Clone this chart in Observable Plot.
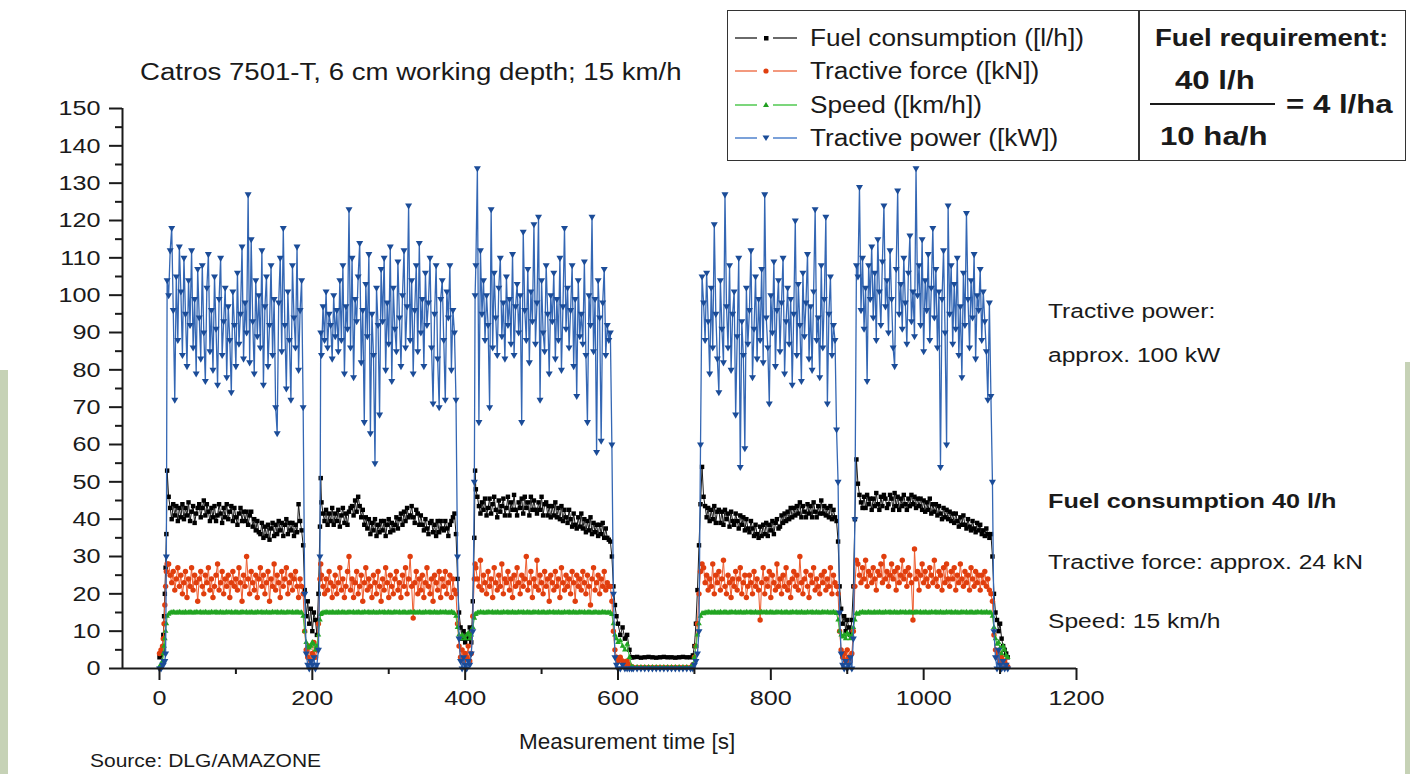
<!DOCTYPE html>
<html>
<head>
<meta charset="utf-8">
<script src="https://cdn.jsdelivr.net/npm/d3@7"></script>
<script src="https://cdn.jsdelivr.net/npm/@observablehq/plot@0.6"></script>
<style>
html,body{margin:0;padding:0;background:#fff;}
#wrap{position:relative;width:1410px;height:774px;overflow:hidden;font-family:"Liberation Sans",Arial,sans-serif;color:#1a1a1a;}
#chart{position:absolute;left:0;top:0;}
.t{position:absolute;white-space:nowrap;line-height:1;transform-origin:0 50%;transform:translateY(-50%) scaleX(1.2);}
.b{font-weight:bold;}
.abs{position:absolute;}
</style>
</head>
<body>
<div id="wrap">
  <div class="abs" style="left:0;top:370px;width:8px;height:404px;background:#c6d2b6"></div>
  <div class="abs" style="left:1405px;top:362px;width:5px;height:412px;background:#c6d2b6"></div>
  <div id="chart"></div>
  <div class="t" style="left:140px;top:72px;font-size:23px">Catros 7501-T, 6 cm working depth; 15 km/h</div>
  <div class="abs" style="left:727px;top:10px;width:679px;height:151px;border:1.5px solid #333;box-sizing:border-box;background:#fff"></div>
  <div class="abs" style="left:1138px;top:10px;width:1.5px;height:151px;background:#333"></div>
  <div id="legend"></div>
  <div class="t b" style="left:1155px;top:38px;font-size:23px">Fuel requirement:</div>
  <div class="t b" style="left:1175px;top:80px;font-size:26px">40 l/h</div>
  <div class="abs" style="left:1150px;top:103px;width:125px;height:2px;background:#1a1a1a"></div>
  <div class="t b" style="left:1286px;top:104px;font-size:26px">= 4 l/ha</div>
  <div class="t b" style="left:1160px;top:136px;font-size:26px">10 ha/h</div>
  <div class="t" style="left:1048px;top:311px;font-size:20.5px">Tractive power:</div>
  <div class="t" style="left:1048px;top:355px;font-size:20.5px">approx. 100 kW</div>
  <div class="t b" style="left:1048px;top:500px;font-size:21px">Fuel consumption 40 l/h</div>
  <div class="t" style="left:1048px;top:562px;font-size:20.5px">Tractive force: approx. 24 kN</div>
  <div class="t" style="left:1048px;top:621px;font-size:20.5px">Speed: 15 km/h</div>
  <div class="t" style="left:519px;top:742px;font-size:22.5px;transform:translateY(-50%)">Measurement time [s]</div>
  <div class="t" style="left:90px;top:762px;font-size:17.5px">Source: DLG/AMAZONE</div>
</div>
<script>
// ---------- data (one sample every ~2 s while working) ----------
const time = [
  0,2,4,5,6,7,8,9,10,
  12,14,16,18,20,22,24,26,28,30, 32,34,36,38,40,42,44,46,48,50, 52,54,56,58,60,62,64,66,68,70, 72,74,76,78,80,82,84,86,88,90, 92,94,96,98,100,102,104,106,108,110, 112,114,116,118,120,122,124,126,128,130, 132,134,136,138,140,142,144,146,148,150, 152,154,156,158,160,162,164,166,168,170, 172,174,176,178,180,182,184,186,
  188,190,192,194,196,198,200,202,204,206,208,210,211,
  212,214,216,218,220,222,224,226,228,230, 232,234,236,238,240,242,244,246,248,250, 252,254,256,258,260,262,264,266,268,270, 272,274,276,278,280,282,284,286,288,290, 292,294,296,298,300,302,304,306,308,310, 312,314,316,318,320,322,324,326,328,330, 332,334,336,338,340,342,344,346,348,350, 352,354,356,358,360,362,364,366,368,370, 372,374,376,378,380,382,384,386,
  388,390,392,394,396,398,400,402,404,406,408,410,412,413,
  414,416,418,420,422,424,426,428,430,432, 434,436,438,440,442,444,446,448,450,452, 454,456,458,460,462,464,466,468,470,472, 474,476,478,480,482,484,486,488,490,492, 494,496,498,500,502,504,506,508,510,512, 514,516,518,520,522,524,526,528,530,532, 534,536,538,540,542,544,546,548,550,552, 554,556,558,560,562,564,566,568,570,572, 574,576,578,580,582,584,586,588,
  590,592,594,596,598,600,603,606,609,612,615,618, 620,625,630,635,640,645,650,655,660,665,670,675,680,685,690,695, 698,700,702,704,706,708,710,
  712,714,716,718,720,722,724,726,728,730, 732,734,736,738,740,742,744,746,748,750, 752,754,756,758,760,762,764,766,768,770, 772,774,776,778,780,782,784,786,788,790, 792,794,796,798,800,802,804,806,808,810, 812,814,816,818,820,822,824,826,828,830, 832,834,836,838,840,842,844,846,848,850, 852,854,856,858,860,862,864,866,868,870, 872,874,876,878,880,882,884,886,
  888,890,892,894,896,898,900,902,904,906,908,910,912,
  914,916,918,920,922,924,926,928,930,932, 934,936,938,940,942,944,946,948,950,952, 954,956,958,960,962,964,966,968,970,972, 974,976,978,980,982,984,986,988,990,992, 994,996,998,1000,1002,1004,1006,1008,1010,1012, 1014,1016,1018,1020,1022,1024,1026,1028,1030,1032, 1034,1036,1038,1040,1042,1044,1046,1048,1050,1052, 1054,1056,1058,1060,1062,1064,1066,1068,1070,1072, 1074,1076,1078,1080,1082,1084,1086,1088,
  1090,1092,1094,1096,1098,1100,1102,1104,1106,1108,1110
];
const fuel = [
  3,3.5,5,9,14,20,27,36,53,
  46,43,40,44,41,43.5,39.5,43,40.5,44, 40,43,41,44.5,39.5,42,43.5,39,41.5,43, 44,40.5,43,45,41,44,42,39.5,43,40.5, 43.5,39.5,41,44,41.5,39,43,40.5,44,40, 42,43.5,39.5,43,40.5,38.5,41.5,43,39.5,42, 39.5,42,38.5,41,42,38,40,37,39.5,36.5, 36,39,35,38,35.5,38.5,34.5,37.5,39,35.5, 38.5,36,39.5,37,39,35.5,38.5,40,36,39, 37,39,35.5,38.5,36.5,44,39.5,37,
  33,21,14,18,12,16,10,15,13,9,20,38,51,
  44.5,41.5,39.5,42.5,38.5,41.5,39.5,43,38.5,41.5, 39.5,42.5,38,41,43,39,41.5,38.5,42,43, 43.5,41,45,42,46,43.5,40.5,42.5,38.5,40.5, 37.5,40,36,39,37,40,35.5,38.5,36.5,39.5, 37,39.5,35.5,38.5,40,36.5,39,37,38.5,40.5, 37.5,40,41.5,38.5,42,39.5,43,40.5,41,43.5, 40.5,39,42.5,41.5,38.5,41,38.5,37,40,37.5, 36,39,39.5,36.5,38.5,35.5,39.5,36.5,39.5,37.5, 37,39.5,37.5,35.5,38.5,39.5,40.5,41.5,
  36,24,15,11,8,10,7,9,8,11,7,18,35,53,
  48,46,43.5,41.5,44.5,42.5,45.5,41,43,45.5, 41.5,44,46,42.5,40.5,45,42,43.5,45.5,41, 43,46,41,44.5,42.5,46.5,42.5,41,44.5,43, 45.5,41.5,46,43,44.5,41,46,42.5,45,42.5, 41.5,44.5,42.5,46,41,44,44.5,41,43.5,40.5, 43.5,41,44.5,40.5,43,40,43.5,39.5,42.5,40.5, 39,42.5,40,38,41.5,38.5,37.5,40.5,38,41.5, 37.5,40,36.5,39.5,37,40.5,36,39,36.5,38.5, 35.5,38.5,36,39,35,37.5,35,34.5,
  34,30,22,17,14,12,9,11,8,9,5,3, 3,3.1,2.9,3,3.1,3,2.9,3,3.1,3,3,2.9,3,3.1,3,3, 3.5,6,12,21,33,44,54,
  46,43.5,40.5,43,39.5,42.5,40,43.5,39,42, 42.5,39,42,38.5,42.5,40,41.5,38,42,39.5, 38.5,41.5,39.5,37.5,41,38.5,40.5,37,40,37.5, 36.5,39.5,37.5,35.5,38.5,36,35,38,35.5,38.5, 36,39,35.5,38.5,37,39.5,36,39,40,37.5, 38,41,39,41.5,39.5,42,40,43,40.5,43, 41,43.5,41.5,44.5,40.5,43.5,42,40.5,44,41.5, 43.5,40.5,44.5,42,40.5,43.5,41.5,45,41.5,43.5, 41,43,40.5,43.5,40,42.5,40.5,39.5,
  34,22,16,12,14,10,13,11,9,13,22,40,56,
  49.5,46.5,44.5,43,46,43,46.5,44,45.5,42.5, 45.5,43.5,47,44,42.5,46,43.5,46.5,45.5,43, 44,46.5,45.5,42.5,47,43.5,46,42.5,45.5,43.5, 46.5,44,42.5,45.5,43.5,46.5,44,46,43,45.5, 43.5,45.5,42.5,45,42,44.5,42.5,45.5,41.5,44, 42,44,41,43.5,41.5,40,43,40.5,42.5,40, 42,39.5,41.5,39,41.5,39.5,38,40.5,38.5,41, 38.5,37.5,40,38,37,39.5,37.5,36.5,39,37, 38.5,36,37,35.5,37.5,36,35,36,
  30,20,15,13,10,12,8,6,5,4,3
];
const force = [
  4,5,6,8,12,17,22,26,28,
  28,25,23,26,21,24,27,22,25,20, 23,26,19,24,22,27,21,25,23,18, 24,26,22,20,25,23,27,21,24,19, 22,25,28,21,23,26,20,24,22,25, 19,23,26,22,24,21,27,23,18,25, 22,30,24,20,26,23,21,25,19,24, 27,22,25,20,23,26,18,24,22,28, 21,25,23,19,26,22,24,27,20,23, 25,21,24,26,22,19,24,22,
  20,10,5,3,6,2,4,7,3,5,12,24,28,
  25,22,20,24,21,26,23,19,22,25, 20,23,27,21,24,19,22,26,30,21, 24,19,23,26,20,22,25,18,23,27, 21,24,22,19,25,23,20,26,22,18, 24,21,27,23,19,25,22,20,24,26, 21,23,19,25,22,27,20,24,30,22, 13.5,23,26,20,24,21,25,19,23,27, 22,20,24,18,25,23,21,26,19,24, 22,26,20,23,25,19,24,21,
  20,12,6,3,5,2,4,3,6,2,4,14,24,28,
  27,24,22,29,21,25,23,20,26,22, 24,19,27,23,21,25,22,28,20,24, 23,26,21,24,19,25,22,27,23,20, 25,22,24,30,21,23,26,19,24,22, 29,21,25,23,20,26,22,24,18,25, 23,21,26,22,24,19,27,23,21,25, 22,24,20,26,23,18,25,22,24,21, 26,23,20,25,22,17,24,27,21,23, 25,20,24,22,26,21,23,22,
  22,18,10,5,3,2,3,2,1,2,1,0.5, 0.3,0.3,0.3,0.3,0.3,0.3,0.3,0.3,0.3,0.3,0.3,0.3,0.3,0.3,0.3,0.3, 1,3,6,12,20,26,28,
  27,23,25,21,24,22,28,20,25,23, 26,21,24,29,22,20,25,23,19,24, 22,26,21,24,27,20,23,25,19,22, 25,23,20,26,22,24,21,13,23,27, 20,24,22,26,19,25,23,21,28,22, 24,20,25,22,27,21,23,19,24,26, 22,25,21,30,23,20,24,26,22,19, 25,23,27,21,24,22,20,25,23,26, 21,24,22,27,20,25,23,22,
  20,10,5,3,4,2,5,3,2,4,10,22,29,
  28,25,23,27,24,29,22,26,25,23, 27,24,21,26,25,28,23,30,24,26, 22,25,28,24,26,21,27,23,25,29, 24,26,22,27,25,23,13,32,24,26, 21,25,28,23,26,24,22,27,25,23, 29,24,22,26,25,21,27,23,28,24, 22,26,24,27,21,25,23,28,24,22, 26,23,25,21,27,24,22,26,23,25, 21,25,23,26,22,24,21,20,
  18,9,5,3,4,2,3,1,2,1,0.5
];
const speed = [
  0.5,1,2,4,6,8,10,12,14,
  14.6,14.9,15,15.1,15,14.9,15,15.1,15,14.9, 15,15.1,14.9,15,15.1,15,14.9,15,15.1,15, 15,15.1,14.9,15,15.1,15,14.9,15,15.1,15, 15,15.1,14.9,15,15.1,15,14.9,15,15.1,15, 15,15.1,14.9,15,15.1,15,14.9,15,15.1,15, 15,15.1,14.9,15,15.1,15,14.9,15,15.1,15, 15,15.1,14.9,15,15.1,15,14.9,15,15.1,15, 15,15.1,14.9,15,15.1,15,14.9,15,15.1,15, 15,15.1,14.9,15,15.1,15,14.9,15,
  14,10,7,6,5.5,6,7,6.5,5,6,9,13,14.5,
  14.7,15,14.9,15.1,15,15,14.9,15.1,15,14.9, 15,15.1,14.9,15,15.1,15,14.9,15,15.1,15, 15,15.1,14.9,15,15.1,15,14.9,15,15.1,15, 15,15.1,14.9,15,15.1,15,14.9,15,15.1,15, 15,15.1,14.9,15,15.1,15,14.9,15,15.1,15, 15,15.1,14.9,15,15.1,15,14.9,15,15.1,15, 15,15.1,14.9,15,15.1,15,14.9,15,15.1,15, 15,15.1,14.9,15,15.1,15,14.9,15,15.1,15, 15,15.1,15,14.9,15,15.1,15,14.8,
  14,11,9,8,9,8.5,8,9,9.5,8,9,11,13.5,14.5,
  14.6,14.9,15,15.1,15,15,14.9,15,15.1,15, 15,15.1,14.9,15,15.1,15,14.9,15,15.1,15, 15,15.1,14.9,15,15.1,15,14.9,15,15.1,15, 15,15.1,14.9,15,15.1,15,14.9,15,15.1,15, 15,15.1,14.9,15,15.1,15,14.9,15,15.1,15, 15,15.1,14.9,15,15.1,15,14.9,15,15.1,15, 15,15.1,14.9,15,15.1,15,14.9,15,15.1,15, 15,15.1,14.9,15,15.1,15,14.9,15,15.1,15, 15,14.9,15,15.1,15,15,14.9,15,
  15,14.5,12,9,8,7,7.5,6,5,6.5,3,0.5, 0.3,0.3,0.3,0.3,0.3,0.3,0.3,0.3,0.3,0.3,0.3,0.3,0.3,0.3,0.3,0.3, 1,3,6,9,12,14,14.8,
  14.7,15,14.9,15.1,15,15,14.9,15.1,15,14.9, 15,15.1,14.9,15,15.1,15,14.9,15,15.1,15, 15,15.1,14.9,15,15.1,15,14.9,15,15.1,15, 15,15.1,14.9,15,15.1,15,14.9,15,15.1,15, 15,15.1,14.9,15,15.1,15,14.9,15,15.1,15, 15,15.1,14.9,15,15.1,15,14.9,15,15.1,15, 15,15.1,14.9,15,15.1,15,14.9,15,15.1,15, 15,15.1,14.9,15,15.1,15,14.9,15,15.1,15, 15,15.1,15,14.9,15,15.1,15,14.8,
  13,10,9,8.5,9,8,9.5,9,8,9,11,13,14.8,
  14.6,14.9,15,15.1,15,14.9,15,15.1,15,14.9, 15,15.1,14.9,15,15.1,15,14.9,15,15.1,15, 15,15.1,14.9,15,15.1,15,14.9,15,15.1,15, 15,15.1,14.9,15,15.1,15,14.9,15,15.1,15, 15,15.1,14.9,15,15.1,15,14.9,15,15.1,15, 15,15.1,14.9,15,15.1,15,14.9,15,15.1,15, 15,15.1,14.9,15,15.1,15,14.9,15,15.1,15, 15,15.1,14.9,15,15.1,15,14.9,15,15.1,15, 15,15.1,14.9,15,15.1,15,14.9,15,
  14,11,8,6.5,7,5.5,4,6,5,3.5,3
];
const power = [
  0,0,1,1,2,2,4,30,104,
  100,112,118,96,72,105,88,113,101,84, 110,95,81,104,92,112,86,99,79,107, 94,83,108,90,77,102,111,85,96,80, 105,91,76,99,110,84,93,102,78,97, 88,74,101,92,81,106,87,95,113,83, 98,90,127,82,115,93,79,104,89,100, 86,112,76,97,105,81,92,108,84,99, 70,63,98,110,85,118,92,75,101,88, 72,108,94,86,113,80,96,104,
  70,20,4,1,0,2,1,3,0,1,5,30,90,
  84,97,88,101,86,95,92,83,100,89, 96,85,104,88,108,79,97,91,123,86, 110,78,99,93,105,114,82,96,66,103, 89,111,63,95,84,55,102,92,68,107, 93,110,80,98,87,113,77,102,91,85, 109,94,81,100,112,86,97,124,88,104, 79,96,108,85,114,90,99,81,106,92, 98,110,86,71,95,108,83,70,99,104, 88,72,101,94,108,80,96,90,
  72,30,8,2,0,3,1,0,2,1,4,10,50,100,
  108,134,66,112,95,104,88,100,92,70, 123,86,106,94,84,102,110,89,98,83, 105,92,99,87,111,84,97,103,90,100, 66,117,96,88,107,82,101,93,119,87, 98,121,72,104,90,85,108,95,79,100, 93,106,83,99,88,110,80,97,118,91, 102,86,96,108,81,99,73,104,89,95, 87,109,84,66,100,92,121,85,99,58, 104,94,61,98,107,84,92,88,
  90,60,20,3,1,0,0,1,0,0,0,0, 0,0,0,0,0,0,0,0,0,0,0,0,0,0,0,0, 0,1,2,4,10,60,105,
  98,88,106,93,79,102,86,119,95,83, 74,104,91,82,127,97,86,108,80,95, 101,68,89,110,54,93,84,59,102,87, 96,112,78,91,105,83,99,88,107,82, 127,94,86,71,100,90,109,81,96,104, 85,98,110,79,93,102,87,99,76,95, 120,84,103,92,77,106,89,98,111,83, 97,80,101,123,88,94,78,108,86,99, 121,71,95,105,84,92,88,64,
  50,15,4,1,0,2,0,1,3,0,8,40,108,
  105,129,96,110,91,102,77,108,99,113, 94,106,88,115,101,92,109,124,97,104, 90,112,99,86,81,107,128,95,103,91, 110,98,87,106,116,93,101,89,134,100, 108,92,115,85,104,96,111,88,102,118, 94,107,86,101,54,99,112,90,60,124, 95,108,87,103,91,110,84,97,78,106, 92,122,99,86,104,94,111,83,100,96, 107,88,101,93,85,72,98,73,
  50,10,3,0,5,1,0,2,0,1,0
];
const yTicks = [0,10,20,30,40,50,60,70,80,90,100,110,120,130,140,150];
const yMinor = [5,15,25,35,45,55,65,75,85,95,105,115,125,135,145];
const xTicks = [0,200,400,600,800,1000,1200];
const xMinor = [100,300,500,700,900,1100];
const seriesNames = ["Fuel consumption ([l/h])","Tractive force ([kN])","Speed ([km/h])","Tractive power ([kW])"];

console.log("lengths", time.length, fuel.length, force.length, speed.length, power.length);

// ---------- chart ----------
const rows = time.map((t,i)=>({t, fuel:fuel[i], force:force[i], speed:speed[i], power:power[i]}));
const styles = [
  {key:"fuel",  line:"#1a1a1a", dot:"#000000", symbol:"square",   r:2.5, rotate:0,   w:1},
  {key:"force", line:"#ee5c2e", dot:"#e03e0e", symbol:"circle",   r:2.7, rotate:0,   w:1},
  {key:"speed", line:"#4cc04c", dot:"#22a522", symbol:"triangle", r:2.1, rotate:0,   w:1.2},
  {key:"power", line:"#3467b4", dot:"#1b4c98", symbol:"triangle", r:2.6, rotate:180, w:1.3}
];
const xMin = -48.4;
const marks = [];
for (const s of styles) {
  marks.push(Plot.line(rows, {x:"t", y:s.key, stroke:s.line, strokeWidth:s.w}));
  marks.push(Plot.dot(rows, {x:"t", y:s.key, symbol:s.symbol, r:s.r, fill:s.dot, stroke:"none", rotate:s.rotate}));
}
marks.push(
  Plot.axisY(yTicks, {tickSize:13, tickPadding:9, strokeWidth:2, label:null}),
  Plot.axisY(yMinor, {tickSize:7, tickFormat:()=>"", strokeWidth:2, label:null}),
  Plot.axisX(xTicks, {tickSize:12, tickPadding:10, strokeWidth:2, label:null, tickFormat:"d"}),
  Plot.axisX(xMinor, {tickSize:6, tickFormat:()=>"", strokeWidth:2, label:null}),
  Plot.ruleX([xMin], {y1:0, y2:150, stroke:"#1a1a1a", strokeWidth:2}),
  Plot.ruleY([0], {stroke:"#1a1a1a", strokeWidth:2})
);
const chart = Plot.plot({
  width:1410, height:774,
  marginLeft:122, marginRight:334, marginTop:108, marginBottom:106,
  x:{domain:[xMin,1200], label:null},
  y:{domain:[0,150], label:null},
  style:{fontFamily:'"Liberation Sans", Arial, sans-serif', fontSize:"21px", color:"#1a1a1a", background:"transparent", overflow:"visible"},
  marks
});
document.getElementById("chart").appendChild(chart);
chart.querySelectorAll('g[aria-label="y-axis tick label"] text, g[aria-label="x-axis tick label"] text').forEach(t=>{
  const tr = t.getAttribute("transform");
  if (tr) t.setAttribute("transform", tr + " scale(1.2,1)");
});

// ---------- legend ----------
const legend = document.getElementById("legend");
const rowsY = [38,71,105,138];
const sw = [
  {dash:"#444", mark:'<rect x="31" y="8" width="4.5" height="4.5" fill="#000"/>'},
  {dash:"#f0805e", mark:'<circle cx="33" cy="10" r="2.6" fill="#e03e0e"/>'},
  {dash:"#5ccc5c", mark:'<path d="M33,7 L36,12 L30,12 Z" fill="#1f9f1f"/>'},
  {dash:"#5b8ad0", mark:'<path d="M33,13 L36.5,7.5 L29.5,7.5 Z" fill="#1b4c98"/>'}
];
seriesNames.forEach((name,i)=>{
  const y = rowsY[i];
  const s = document.createElement("div");
  s.className = "abs";
  s.style.cssText = `left:733px;top:${y-10}px;width:66px;height:20px`;
  s.innerHTML = `<svg width="66" height="20"><line x1="2" y1="10" x2="24" y2="10" stroke="${sw[i].dash}" stroke-width="1.6"/>${sw[i].mark}<line x1="40" y1="10" x2="64" y2="10" stroke="${sw[i].dash}" stroke-width="1.6"/></svg>`;
  legend.appendChild(s);
  const t = document.createElement("div");
  t.className = "t";
  t.style.cssText = `left:810px;top:${y}px;font-size:23px;transform:translateY(-50%) scaleX(1.14)`;
  t.textContent = name;
  legend.appendChild(t);
});
</script>
</body>
</html>
